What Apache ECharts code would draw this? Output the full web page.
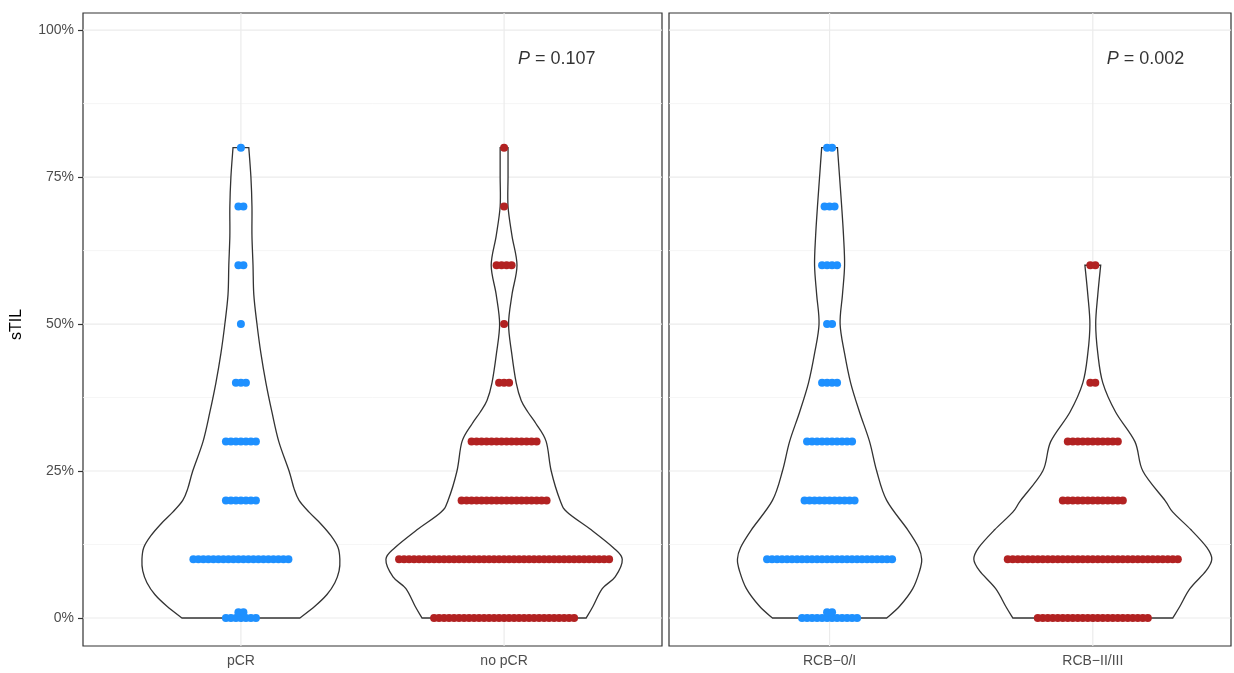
<!DOCTYPE html>
<html>
<head>
<meta charset="utf-8">
<script src="https://cdn.jsdelivr.net/npm/echarts@6/dist/echarts.min.js"></script>
<style>
  html, body { margin: 0; padding: 0; background: #fff; }
  #chart { width: 1234px; height: 673px; }
</style>
</head>
<body>
<div id="chart"></div>
<script>
// categories per panel
const leftCats = ["pCR", "no pCR"];
const rightCats = ["RCB\u22120/I", "RCB\u2212II/III"];
const yTickValues = [0, 25, 50, 75, 100];
const yMinorValues = [12.5, 37.5, 62.5, 87.5];
const pLabels = ["0.107", "0.002"];

// dots: [sTIL %, number of patients]
const pcrDots = [[0, 7], [1, 2], [10, 20], [20, 7], [30, 7], [40, 3], [50, 1], [60, 2], [70, 2], [80, 1]];
const noPcrDots = [[0, 29], [10, 43], [20, 18], [30, 14], [40, 3], [50, 1], [60, 4], [70, 1], [80, 1]];
const rcb01Dots = [[0, 12], [1, 2], [10, 26], [20, 11], [30, 10], [40, 4], [50, 2], [60, 4], [70, 3], [80, 2]];
const rcb23Dots = [[0, 23], [10, 35], [20, 13], [30, 11], [40, 2], [60, 2]];

// violin outlines: y levels (%) and half widths (category units)
const pcrViolinY = [0, 2, 4, 6, 8, 10, 12, 14, 16, 18, 20, 22, 25, 30, 35, 40, 45, 50, 55, 60, 65, 70, 75, 80];
const pcrViolinW = [0.224, 0.281, 0.327, 0.357, 0.373, 0.376, 0.369, 0.342, 0.304, 0.259, 0.221, 0.202, 0.183, 0.144, 0.118, 0.095, 0.076, 0.061, 0.049, 0.046, 0.042, 0.042, 0.038, 0.030];
const noPcrViolinY = [0, 2, 5, 7, 10, 12, 15, 18, 20, 25, 30, 33, 35, 37, 40, 45, 50, 55, 60, 65, 70, 75, 80];
const noPcrViolinW = [0.312, 0.338, 0.373, 0.422, 0.449, 0.414, 0.331, 0.240, 0.213, 0.179, 0.160, 0.122, 0.091, 0.065, 0.046, 0.029, 0.017, 0.030, 0.049, 0.030, 0.015, 0.015, 0.015];
const rcb01ViolinY = [0, 2, 5, 8, 10, 12, 15, 20, 25, 30, 35, 40, 45, 50, 55, 60, 65, 70, 75, 80];
const rcb01ViolinW = [0.217, 0.266, 0.316, 0.342, 0.350, 0.338, 0.297, 0.217, 0.179, 0.152, 0.114, 0.080, 0.057, 0.040, 0.049, 0.057, 0.053, 0.046, 0.038, 0.030];
const rcb23ViolinY = [0, 2, 5, 8, 10, 12, 15, 18, 20, 25, 30, 35, 40, 45, 50, 55, 60];
const rcb23ViolinW = [0.304, 0.331, 0.369, 0.430, 0.452, 0.433, 0.373, 0.304, 0.274, 0.190, 0.160, 0.087, 0.038, 0.019, 0.011, 0.019, 0.030];

const BLUE = "#1E90FF";
const RED = "#B22222";
const DOT_STEP = 0.019;
const FONT = "Liberation Sans, Arial, sans-serif";
const Y_MIN = -4.76;
const Y_MAX = 102.9;

function dotPoints(rows, center) {
  const pts = [];
  rows.forEach(([v, n]) => {
    for (let i = 0; i < n; i++) {
      pts.push([center + (i - (n - 1) / 2) * DOT_STEP, v]);
    }
  });
  return pts;
}

// catmull-rom through points -> cubic bezier path segments
function crSegments(pts) {
  let d = "";
  for (let i = 0; i < pts.length - 1; i++) {
    const p0 = pts[Math.max(i - 1, 0)];
    const p1 = pts[i];
    const p2 = pts[i + 1];
    const p3 = pts[Math.min(i + 2, pts.length - 1)];
    const c1 = [p1[0] + (p2[0] - p0[0]) / 6, p1[1] + (p2[1] - p0[1]) / 6];
    const c2 = [p2[0] - (p3[0] - p1[0]) / 6, p2[1] - (p3[1] - p1[1]) / 6];
    d += " C" + c1[0] + "," + c1[1] + " " + c2[0] + "," + c2[1] + " " + p2[0] + "," + p2[1];
  }
  return d;
}

function violinSeries(gridIdx, violins) {
  return {
    type: "custom",
    xAxisIndex: gridIdx,
    yAxisIndex: gridIdx,
    z: 3,
    silent: true,
    clip: false,
    data: violins.map((v, i) => [i]),
    renderItem: function (params, api) {
      const v = violins[params.dataIndex];
      const left = v.y.map((y, k) => api.coord([v.center - v.w[k], y]));
      const right = v.y.map((y, k) => api.coord([v.center + v.w[k], y])).reverse();
      let d = "M" + left[0][0] + "," + left[0][1] + crSegments(left);
      d += " L" + right[0][0] + "," + right[0][1] + crSegments(right) + " Z";
      return {
        type: "path",
        shape: { pathData: d },
        style: { fill: "#fff", stroke: "#333", lineWidth: 1.3 },
      };
    },
  };
}

function gridLineSeries(gridIdx, xMin, xMax) {
  const lines = [];
  yTickValues.forEach((v) => lines.push(["h", v, 1]));
  yMinorValues.forEach((v) => lines.push(["h", v, 0]));
  [1, 2].forEach((v) => lines.push(["v", v, 1]));
  return {
    type: "custom",
    xAxisIndex: gridIdx,
    yAxisIndex: gridIdx,
    z: 1,
    silent: true,
    data: lines,
    renderItem: function (params, api) {
      const kind = lines[params.dataIndex][0];
      const val = lines[params.dataIndex][1];
      const major = lines[params.dataIndex][2];
      let a, b;
      if (kind === "h") {
        a = api.coord([xMin, val]);
        b = api.coord([xMax, val]);
      } else {
        a = api.coord([val, Y_MIN]);
        b = api.coord([val, Y_MAX]);
      }
      return {
        type: "line",
        shape: { x1: a[0], y1: a[1], x2: b[0], y2: b[1] },
        style: { stroke: major ? "#EBEBEB" : "#F4F4F4", lineWidth: major ? 1.2 : 0.8 },
      };
    },
  };
}

function dotSeries(gridIdx, rows, center, color) {
  return {
    type: "scatter",
    xAxisIndex: gridIdx,
    yAxisIndex: gridIdx,
    z: 4,
    silent: true,
    symbolSize: 8,
    itemStyle: { color: color, opacity: 1 },
    data: dotPoints(rows, center),
  };
}

function pSeries(gridIdx, text) {
  return {
    type: "scatter",
    xAxisIndex: gridIdx,
    yAxisIndex: gridIdx,
    z: 5,
    silent: true,
    symbolSize: 0,
    data: [[2.2, 95]],
    label: {
      show: true,
      position: "inside",
      formatter: "{i|P} = " + text,
      fontFamily: FONT,
      fontSize: 18,
      color: "#000",
      rich: { i: { fontStyle: "italic", fontSize: 18, color: "#000", fontFamily: FONT } },
    },
  };
}

function xAxisFor(gridIdx, cats, xMin, xMax) {
  return {
    type: "value",
    gridIndex: gridIdx,
    min: xMin,
    max: xMax,
    axisLine: { show: false },
    splitLine: { show: false },
    axisTick: { show: true, customValues: [1, 2], length: 4, lineStyle: { color: "#333", width: 1.2 } },
    axisLabel: {
      show: true,
      customValues: [1, 2],
      formatter: (v) => cats[Math.round(v) - 1],
      color: "#4D4D4D",
      fontSize: 14,
      margin: 8,
      fontFamily: FONT,
    },
  };
}

function yAxisFor(gridIdx, showLabels) {
  return {
    type: "value",
    gridIndex: gridIdx,
    min: Y_MIN,
    max: Y_MAX,
    name: showLabels ? "sTIL" : "",
    nameLocation: "middle",
    nameGap: 58,
    nameRotate: 90,
    nameTextStyle: { color: "#000", fontSize: 16, fontFamily: FONT, padding: [0, 0, 0, 10] },
    axisLine: { show: false },
    splitLine: { show: false },
    axisTick: { show: showLabels, customValues: yTickValues, length: 5, lineStyle: { color: "#333", width: 1.2 } },
    axisLabel: {
      show: showLabels,
      customValues: yTickValues,
      formatter: (v) => v + "%",
      color: "#4D4D4D",
      fontSize: 14,
      margin: 9,
      fontFamily: FONT,
    },
  };
}

const chart = echarts.init(document.getElementById("chart"), null, { renderer: "canvas" });

const option = {
  backgroundColor: "#fff",
  animation: false,
  grid: [
    { left: 83, top: 13, width: 579, height: 633, show: true, backgroundColor: "#fff", borderColor: "#333", borderWidth: 1.2 },
    { left: 669, top: 13, width: 562, height: 633, show: true, backgroundColor: "#fff", borderColor: "#333", borderWidth: 1.2 },
  ],
  xAxis: [xAxisFor(0, leftCats, 0.4, 2.6), xAxisFor(1, rightCats, 0.39, 2.525)],
  yAxis: [yAxisFor(0, true), yAxisFor(1, false)],
  series: [
    gridLineSeries(0, 0.4, 2.6),
    gridLineSeries(1, 0.39, 2.525),
    violinSeries(0, [
      { center: 1, y: pcrViolinY, w: pcrViolinW },
      { center: 2, y: noPcrViolinY, w: noPcrViolinW },
    ]),
    violinSeries(1, [
      { center: 1, y: rcb01ViolinY, w: rcb01ViolinW },
      { center: 2, y: rcb23ViolinY, w: rcb23ViolinW },
    ]),
    dotSeries(0, pcrDots, 1, BLUE),
    dotSeries(0, noPcrDots, 2, RED),
    dotSeries(1, rcb01Dots, 1, BLUE),
    dotSeries(1, rcb23Dots, 2, RED),
    pSeries(0, pLabels[0]),
    pSeries(1, pLabels[1]),
  ],
};

chart.setOption(option);
</script>
</body>
</html>
